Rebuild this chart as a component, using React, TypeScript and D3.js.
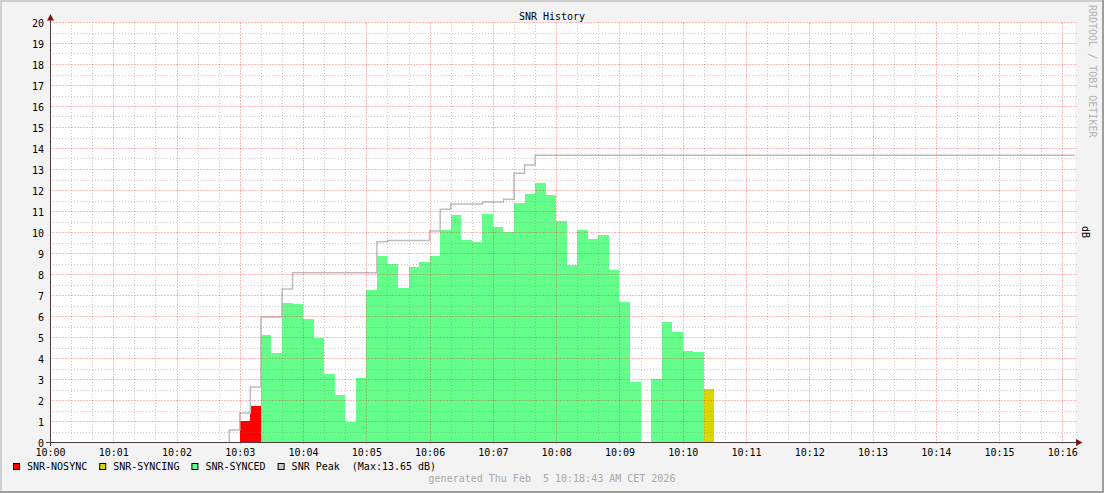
import React, { useRef, useEffect } from 'react'
import * as d3 from 'd3'

const startTime = '10:00:00'
const endTime = '10:16:12'
const barStartTime = '10:03:00'
const stepSeconds = 10

// SNR per 10s step starting 10:03:00 (null = no data)
const snrValues: (number | null)[] = [
	1.0, 1.71, 5.1, 4.25, 6.62, 6.57, 5.86, 4.97, 3.24, 2.24, 0.97, 3.05, 7.24, 8.86, 8.48,
	7.35, 8.35, 8.57, 8.87, 10.1, 10.81, 9.63, 9.52, 10.86, 10.24, 10.0, 11.4, 11.81, 12.35,
	11.76, 10.53, 8.44, 10.1, 9.67, 9.86, 8.19, 6.67, 2.87, null, 2.98, 5.71, 5.24, 4.33,
	4.29, 2.52,
]
// N = nosync, S = syncing, Y = synced, - = none
const snrStatus = 'NN' + 'YYYYYYYYYY' + 'YYYYYYYYYY' + 'YYYYYYYYYY' + 'YYYYYY' + '-' + 'YYYYY' + 'S'

// SNR peak, value changes
const peakTimes = [
	'10:02:50', '10:02:50', '10:03:00', '10:03:10', '10:03:20', '10:03:40', '10:03:50',
	'10:05:10', '10:05:20', '10:06:00', '10:06:10', '10:06:20', '10:06:50', '10:07:10',
	'10:07:20', '10:07:30', '10:07:40',
]
const peakValues = [
	0, 0.57, 1.38, 2.62, 5.95, 7.29, 8.06, 9.54, 9.6, 10.05, 11.08, 11.33, 11.43, 11.56, 12.8,
	13.19, 13.65,
]

const yTicks = d3.range(0, 21)
const legendNames = ['SNR-NOSYNC', 'SNR-SYNCING', 'SNR-SYNCED', 'SNR Peak']
const statusColors: Record<string, string> = { N: '#ff0000', S: '#ddd500', Y: '#63ff8a' }
const legendColors = ['#ff0000', '#ddd500', '#63ff8a', '#c8c8c8']

const W = 1104
const H = 493
const FONT = '"DejaVu Sans Mono", monospace'

const App = () => {
	const svgRef = useRef<SVGSVGElement | null>(null)

	useEffect(() => {
		const svg = d3.select(svgRef.current)
		svg.selectAll('*').remove()
		const parse = d3.timeParse('%H:%M:%S')

		const x = d3
			.scaleTime()
			.domain([parse(startTime)!, parse(endTime)!])
			.range([50, 1075])
		const y = d3.scaleLinear().domain([0, 20]).range([442, 22])

		// frame
		svg.append('rect').attr('width', W).attr('height', H).attr('fill', '#f3f3f3')
		svg.append('path').attr('d', `M0,${H}V0H${W}`).attr('stroke', '#cfcfcf').attr('stroke-width', 4).attr('fill', 'none')
		svg.append('path').attr('d', `M0,${H}H${W}V0`).attr('stroke', '#9e9e9e').attr('stroke-width', 4).attr('fill', 'none')
		svg.append('rect').attr('x', 50).attr('y', 22).attr('width', 1025).attr('height', 420).attr('fill', '#ffffff')

		// bars
		const t0 = parse(barStartTime)!
		const bars = snrValues
			.map((v, i) => ({
				v,
				s: snrStatus[i],
				t: d3.timeSecond.offset(t0, i * stepSeconds),
			}))
			.filter((d) => d.v !== null && d.s !== '-')
		svg
			.append('g')
			.attr('shape-rendering', 'crispEdges')
			.selectAll('rect')
			.data(bars)
			.enter()
			.append('rect')
			.attr('x', (d) => x(d.t))
			.attr('width', (d) => x(d3.timeSecond.offset(d.t, stepSeconds)) - x(d.t))
			.attr('y', (d) => y(d.v as number))
			.attr('height', (d) => y(0) - y(d.v as number))
			.attr('fill', (d) => statusColors[d.s])

		// peak line
		const peakPts: [Date, number][] = peakTimes.map((t, i) => [parse(t)!, peakValues[i]])
		peakPts.push([x.domain()[1], peakValues[peakValues.length - 1]])
		const line = d3
			.line<[Date, number]>()
			.x((d) => x(d[0]))
			.y((d) => y(d[1]))
			.curve(d3.curveStepAfter)
		svg
			.append('path')
			.attr('d', line(peakPts))
			.attr('fill', 'none')
			.attr('stroke', '#bdbdbd')
			.attr('stroke-width', 1.5)

		// grid
		const grid = svg.append('g').attr('shape-rendering', 'crispEdges')
		const minorColor = 'rgba(120,120,120,0.4)'
		const majorColor = 'rgba(255,0,0,0.27)'
		const minorY = d3.range(0.5, 20, 1)
		grid
			.selectAll('.hmin')
			.data(minorY)
			.enter()
			.append('line')
			.attr('x1', 50)
			.attr('x2', 1077)
			.attr('y1', (d) => Math.round(y(d)) + 0.5)
			.attr('y2', (d) => Math.round(y(d)) + 0.5)
			.attr('stroke', minorColor)
			.attr('stroke-dasharray', '1,2')
		const minorX = x.ticks(d3.timeSecond.every(20)!).filter((d) => d.getSeconds() !== 0)
		grid
			.selectAll('.vmin')
			.data(minorX)
			.enter()
			.append('line')
			.attr('x1', (d) => Math.round(x(d)) + 0.5)
			.attr('x2', (d) => Math.round(x(d)) + 0.5)
			.attr('y1', 22)
			.attr('y2', 442)
			.attr('stroke', minorColor)
			.attr('stroke-dasharray', '1,2')
		grid
			.selectAll('.hmaj')
			.data(yTicks.slice(1))
			.enter()
			.append('line')
			.attr('x1', 50)
			.attr('x2', 1077)
			.attr('y1', (d) => Math.round(y(d)) + 0.5)
			.attr('y2', (d) => Math.round(y(d)) + 0.5)
			.attr('stroke', majorColor)
			.attr('stroke-dasharray', '2,1')
		const majorX = x.ticks(d3.timeMinute.every(1)!)
		grid
			.selectAll('.vmaj')
			.data(majorX.slice(1))
			.enter()
			.append('line')
			.attr('x1', (d) => Math.round(x(d)) + 0.5)
			.attr('x2', (d) => Math.round(x(d)) + 0.5)
			.attr('y1', 22)
			.attr('y2', 445)
			.attr('stroke', majorColor)
			.attr('stroke-dasharray', '2,1')

		// axes
		const axisColor = '#4d3d3d'
		svg.append('line').attr('x1', 46).attr('x2', 1078).attr('y1', 442.5).attr('y2', 442.5).attr('stroke', axisColor)
		svg.append('line').attr('x1', 50.5).attr('x2', 50.5).attr('y1', 446).attr('y2', 18).attr('stroke', axisColor)
		svg.append('path').attr('d', 'M50.5,14L54,20.5H47Z').attr('fill', '#801515')
		svg.append('path').attr('d', 'M1082.5,442.5L1076,439V446Z').attr('fill', '#801515')

		const text = (g: d3.Selection<any, any, any, any>) =>
			g.attr('font-family', FONT).attr('font-size', 10).attr('fill', '#000')

		svg
			.append('g')
			.call(text)
			.selectAll('text')
			.data(yTicks)
			.enter()
			.append('text')
			.attr('x', 44)
			.attr('y', (d) => y(d) + 1)
			.attr('dy', '0.35em')
			.attr('text-anchor', 'end')
			.text((d) => d)

		svg
			.append('g')
			.call(text)
			.selectAll('text')
			.data(majorX)
			.enter()
			.append('text')
			.attr('x', (d) => x(d) + 0.5)
			.attr('y', 455.5)
			.attr('text-anchor', 'middle')
			.text((d) => d3.timeFormat('%H:%M')(d))

		// title and side texts
		svg.append('text').call(text).attr('x', 552).attr('y', 19.5).attr('text-anchor', 'middle').text('SNR History')
		svg
			.append('text')
			.call(text)
			.attr('fill', '#b4b4b4')
			.attr('transform', 'translate(1089,5) rotate(90)')
			.text('RRDTOOL / TOBI OETIKER')
		svg
			.append('text')
			.call(text)
			.attr('transform', 'translate(1082,226) rotate(90)')
			.text('dB')
		svg
			.append('text')
			.call(text)
			.attr('fill', '#a8a8a8')
			.attr('x', 552)
			.attr('y', 481.5)
			.attr('text-anchor', 'middle')
			.style('white-space', 'pre')
			.text('generated Thu Feb  5 10:18:43 AM CET 2026')

		// legend
		const peakMax = d3.max(peakValues)!
		const labels = legendNames.map((n, i) =>
			i === 3 ? `${n}  (Max:${peakMax.toFixed(2)} dB)` : n
		)
		let cx = 13
		labels.forEach((label, i) => {
			svg
				.append('rect')
				.attr('x', cx + 0.5)
				.attr('y', 463.5)
				.attr('width', 6)
				.attr('height', 6)
				.attr('fill', legendColors[i])
				.attr('stroke', '#000')
			svg
				.append('text')
				.call(text)
				.attr('x', cx + 14)
				.attr('y', 470)
				.style('white-space', 'pre')
				.text(label)
			cx += 14 + label.length * 6.02 + 12
		})
	}, [])

	return (
		<svg
			ref={svgRef}
			width={W}
			height={H}
			style={{ position: 'absolute', left: 0, top: 0 }}
		></svg>
	)
}

export default App
